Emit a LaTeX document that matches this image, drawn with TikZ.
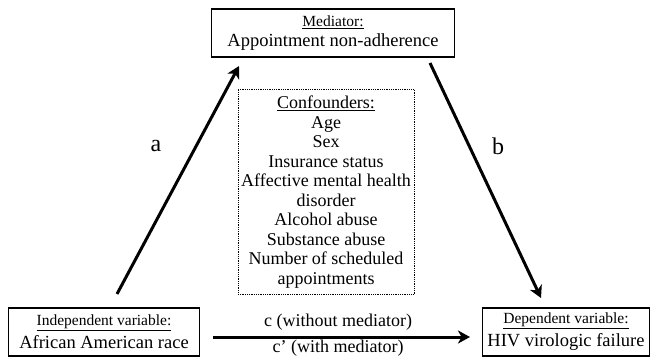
\documentclass[tikz,border=0pt]{standalone}
\usepackage{fontspec}
\setmainfont{Liberation Serif}
\usetikzlibrary{arrows.meta}
\begin{document}
\begin{tikzpicture}[x=1pt,y=-1pt,
  varbox/.style={draw,line width=1.8pt,align=center,inner sep=0pt,font=\fontsize{18.5}{20}\selectfont},
  conf/.style={draw,densely dotted,line width=0.8pt,align=center,inner sep=0pt,font=\fontsize{18}{19.5}\selectfont},
  arr/.style={line width=3pt,-{Stealth[length=12pt,width=13pt,inset=3.5pt]}},
  lbl/.style={font=\fontsize{18}{19}\selectfont}
]
\useasboundingbox (0,0) rectangle (656,358);
\node[varbox,minimum width=243pt,minimum height=48pt] (med) at (333,33)
  {{\fontsize{15.5}{16}\selectfont\underline{Mediator:}}\\[0pt]Appointment non-adherence};
\node[conf,minimum width=176pt,minimum height=205pt] (conf) at (326,192)
  {{\underline{Confounders:}}\\Age\\Sex\\Insurance status\\Affective mental health\\disorder\\Alcohol abuse\\Substance abuse\\Number of scheduled\\appointments};
\node[varbox,minimum width=191pt,minimum height=48pt] (iv) at (104,332)
  {{\fontsize{15.5}{16}\selectfont\underline{Independent variable:}}\\[3pt]African American race};
\node[varbox,minimum width=167pt,minimum height=48pt] (dv) at (566,332)
  {{\fontsize{15.5}{16}\selectfont\underline{Dependent variable:}}\\[3pt]HIV virologic failure};
\coordinate (aS) at (117,294);
\coordinate (aE) at (239,66);
\coordinate (bS) at (430,63);
\coordinate (bE) at (541,298);
\coordinate (cS) at (213,337);
\coordinate (cE) at (470,337);
\draw[arr] (aS) -- (aE);
\draw[arr] (bS) -- (bE);
\draw[arr] (cS) -- (cE);
\node[font=\fontsize{24}{26}\selectfont] (la) at (156,146) {a};
\node[font=\fontsize{24}{26}\selectfont] (lb) at (498,146) {b};
\node[lbl] (lc) at (338,322) {c (without mediator)};
\node[lbl] (lc2) at (338,348) {c’ (with mediator)};
\end{tikzpicture}
\end{document}
